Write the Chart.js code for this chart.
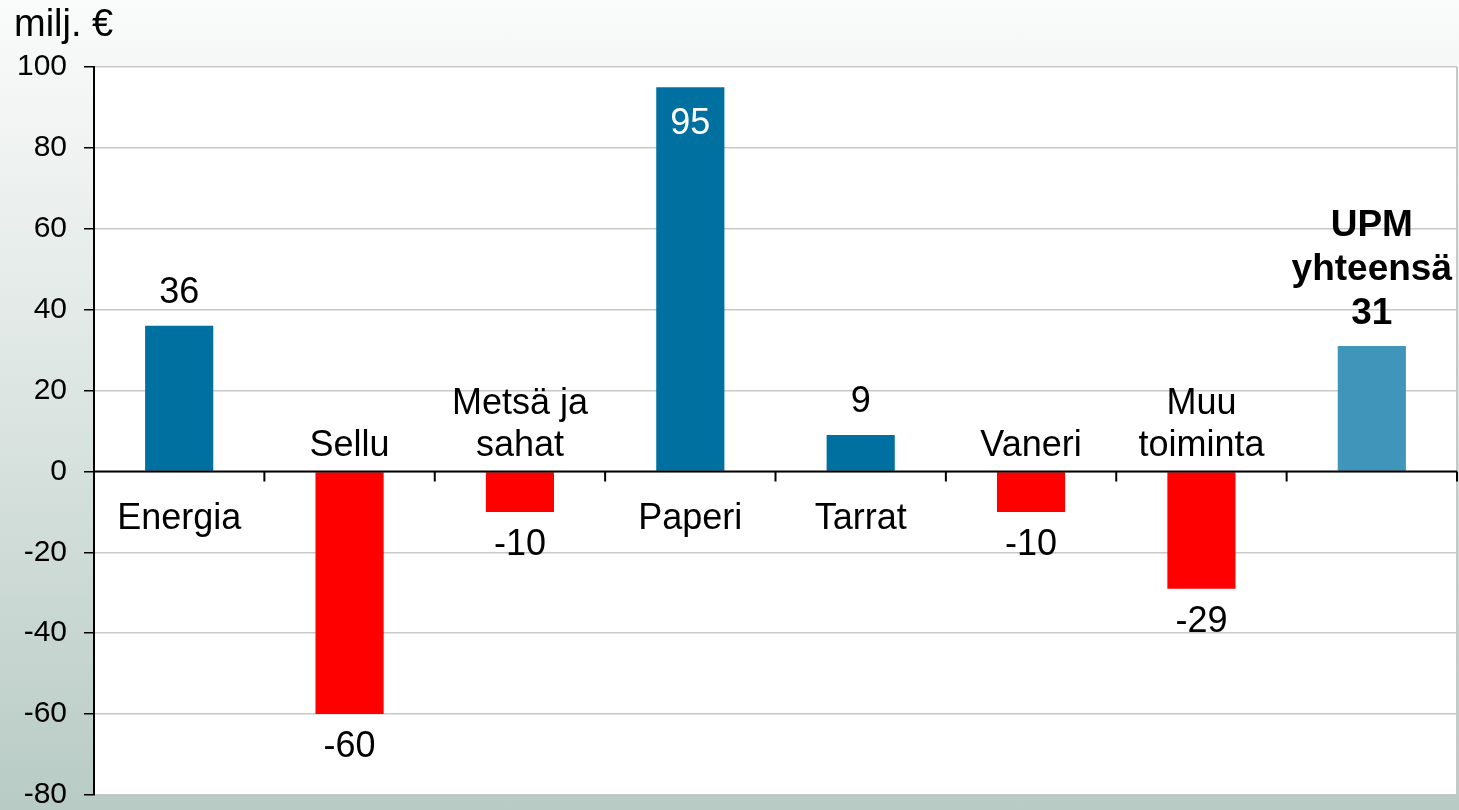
<!DOCTYPE html>
<html>
<head>
<meta charset="utf-8">
<script src="https://cdn.jsdelivr.net/npm/chart.js@4"></script>
<style>
    html, body {
        margin: 0;
        padding: 0;
        width: 1459px;
        height: 810px;
        overflow: hidden;
        background: linear-gradient(to bottom, #fafbfb 0%, #dfe7e4 45%, #b8cbc5 100%);
    }
    canvas { display: block; }
</style>
</head>
<body>
<canvas id="chart" width="1459" height="810"></canvas>
<script>
const categories = [
    ['Energia'],
    ['Sellu'],
    ['Metsä ja', 'sahat'],
    ['Paperi'],
    ['Tarrat'],
    ['Vaneri'],
    ['Muu', 'toiminta'],
    ['UPM', 'yhteensä']
];
const values = [36, -60, -10, 95, 9, -10, -29, 31];
const yTicks = [-80, -60, -40, -20, 0, 20, 40, 60, 80, 100];
const unitLabel = 'milj. €';

const BLUE = '#0070a0';
const RED = '#ff0000';
const TOTAL = '#4095bb';
const FONT = 'Arial, "Liberation Sans", sans-serif';

const lastIdx = values.length - 1;
const barColors = values.map((v, i) => i === lastIdx ? TOTAL : (v < 0 ? RED : BLUE));

// white plot area, right border and the black zero axis with ticks
const plotFrame = {
    id: 'plotFrame',
    beforeDraw(chart) {
        const { ctx, chartArea: a } = chart;
        ctx.save();
        ctx.fillStyle = '#ffffff';
        ctx.fillRect(a.left, a.top, a.right - a.left, a.bottom - a.top);
        ctx.restore();
    },
    afterDatasetsDraw(chart) {
        const { ctx, chartArea: a, scales } = chart;
        const y0 = scales.y.getPixelForValue(0);
        ctx.save();
        ctx.strokeStyle = '#c8c8c8';
        ctx.lineWidth = 2;
        ctx.beginPath();
        ctx.moveTo(a.right, a.top);
        ctx.lineTo(a.right, a.bottom);
        ctx.stroke();

        ctx.strokeStyle = '#000000';
        ctx.lineWidth = 2;
        ctx.beginPath();
        ctx.moveTo(a.left, y0);
        ctx.lineTo(a.right, y0);
        for (let i = 0; i < values.length; i++) {
            const xb = scales.x.getPixelForValue(i + 0.5);
            ctx.moveTo(xb, y0);
            ctx.lineTo(xb, y0 + 10);
        }
        ctx.stroke();

        ctx.fillStyle = '#000000';
        ctx.font = '38px ' + FONT;
        ctx.textAlign = 'left';
        ctx.textBaseline = 'middle';
        ctx.fillText(unitLabel, 14, 26);
        ctx.restore();
    }
};

// category names and values written next to the bars
const barLabels = {
    id: 'barLabels',
    afterDraw(chart) {
        const { ctx, chartArea: a, scales } = chart;
        const y0 = scales.y.getPixelForValue(0);
        ctx.save();
        ctx.textAlign = 'center';
        ctx.textBaseline = 'middle';

        values.forEach((v, i) => {
            const x = scales.x.getPixelForValue(i);
            const yv = scales.y.getPixelForValue(v);
            const lines = categories[i];

            if (i === lastIdx) {
                ctx.font = 'bold 37px ' + FONT;
                ctx.fillStyle = '#000000';
                let y = yv - 32;
                ctx.fillText(String(v), x, y);
                for (let k = lines.length - 1; k >= 0; k--) {
                    y -= 44;
                    ctx.fillText(lines[k], x, y);
                }
                return;
            }

            ctx.font = '36px ' + FONT;

            // value label
            if (v >= 0) {
                if (yv - 33 < a.top + 15) {
                    ctx.fillStyle = '#ffffff';
                    ctx.fillText(String(v), x, yv + 37);
                } else {
                    ctx.fillStyle = '#000000';
                    ctx.fillText(String(v), x, yv - 33);
                }
            } else {
                ctx.fillStyle = '#000000';
                ctx.fillText(String(v), x, yv + 33);
            }

            // category name on the other side of zero
            ctx.fillStyle = '#000000';
            if (v >= 0) {
                lines.forEach((t, k) => ctx.fillText(t, x, y0 + 48 + k * 42));
            } else {
                const n = lines.length;
                lines.forEach((t, k) => ctx.fillText(t, x, y0 - 25 - (n - 1 - k) * 42));
            }
        });
        ctx.restore();
    }
};

new Chart(document.getElementById('chart').getContext('2d'), {
    type: 'bar',
    data: {
        labels: categories.map(c => c.join(' ')),
        datasets: [{
            data: values,
            backgroundColor: barColors,
            borderWidth: 0,
            categoryPercentage: 1.0,
            barPercentage: 0.4
        }]
    },
    options: {
        responsive: false,
        animation: false,
        layout: { padding: { top: 67, bottom: 15, right: 2, left: 0 } },
        plugins: {
            legend: { display: false },
            tooltip: { enabled: false }
        },
        scales: {
            x: {
                display: false,
                grid: { display: false }
            },
            y: {
                min: yTicks[0],
                max: yTicks[yTicks.length - 1],
                afterBuildTicks: scale => {
                    scale.ticks = yTicks.map(v => ({ value: v }));
                },
                afterFit: scale => {
                    scale.width = 94;
                    scale.paddingTop = 0;
                    scale.paddingBottom = 0;
                },
                border: { color: '#000000', width: 2 },
                grid: {
                    color: '#c8c8c8',
                    lineWidth: 1.5,
                    tickColor: '#000000',
                    tickLength: 10
                },
                ticks: {
                    color: '#000000',
                    padding: 17,
                    font: { family: FONT, size: 30, lineHeight: 1 }
                }
            }
        }
    },
    plugins: [plotFrame, barLabels]
});
</script>
</body>
</html>
